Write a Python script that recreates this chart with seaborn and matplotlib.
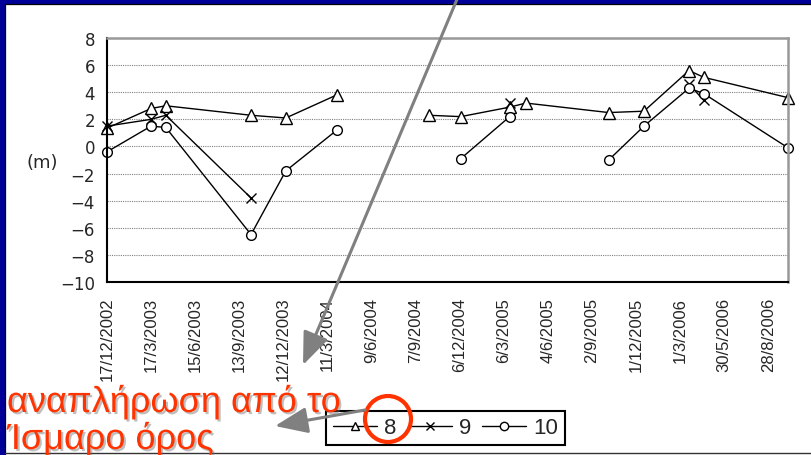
import pandas as pd
import seaborn as sns
import matplotlib.pyplot as plt
import matplotlib.dates as mdates
import matplotlib.patheffects as pe
from matplotlib.lines import Line2D
from matplotlib.patches import Rectangle, Circle, FancyArrowPatch

# sampling dates (the blank mid-2004 row breaks the lines like the Excel sheet)
dates = ['2002-12-17', '2003-03-17', '2003-04-16', '2003-10-07', '2003-12-17',
         '2004-03-30', '2004-07-01', '2004-10-04', '2004-12-08', '2005-03-18',
         '2005-04-20', '2005-10-06', '2005-12-17', '2006-03-19', '2006-04-18',
         '2006-10-07']
nan = float('nan')
s8 = [1.35, 2.8, 3.0, 2.3, 2.1, 3.8, nan, 2.3, 2.2, 2.9, 3.2, 2.5, 2.6, 5.6, 5.1, 3.6]
s9 = [1.5, 2.0, 2.3, -3.8, nan, nan, nan, nan, nan, 3.2, nan, nan, nan, 4.6, 3.4, nan]
s10 = [-0.4, 1.5, 1.4, -6.5, -1.8, 1.2, nan, nan, -0.9, 2.2, nan, -1.0, 1.5, 4.3, 3.9, -0.1]

tick_dates = ['2002-12-17', '2003-03-17', '2003-06-15', '2003-09-13', '2003-12-12',
              '2004-03-11', '2004-06-09', '2004-09-07', '2004-12-06', '2005-03-06',
              '2005-06-04', '2005-09-02', '2005-12-01', '2006-03-01', '2006-05-30',
              '2006-08-28']
tick_labels = ['17/12/2002', '17/3/2003', '15/6/2003', '13/9/2003', '12/12/2003',
               '11/3/2004', '9/6/2004', '7/9/2004', '6/12/2004', '6/3/2005',
               '4/6/2005', '2/9/2005', '1/12/2005', '1/3/2006', '30/5/2006',
               '28/8/2006']
series_names = ['8', '9', '10']

sns.set_style('white')
plt.rcParams['font.family'] = ['Liberation Sans', 'DejaVu Sans']

frames = []
for name, vals in zip(series_names, [s8, s9, s10]):
    d = pd.DataFrame({'date': pd.to_datetime(dates), 'value': vals})
    d['segment'] = d['value'].isna().cumsum()
    d['sensor'] = name
    frames.append(d.dropna())
df = pd.concat(frames, ignore_index=True)

W, H = 811, 456
fig = plt.figure(figsize=(W / 100, H / 100), dpi=100)
fig.patch.set_facecolor('white')
ax = fig.add_axes([107 / W, 1 - 283 / H, (788 - 107) / W, (283 - 39) / H])

styles = {
    '8': dict(marker='^', markersize=8, markerfacecolor='white'),
    '9': dict(marker='x', markersize=7),
    '10': dict(marker='o', markersize=7, markerfacecolor='white'),
}
for name in series_names:
    sns.lineplot(data=df[df['sensor'] == name], x='date', y='value',
                 units='segment', estimator=None, color='black', linewidth=1.0,
                 markeredgecolor='black', markeredgewidth=1.0, legend=False,
                 clip_on=False, ax=ax, **styles[name])

ax.set_xlim(mdates.date2num(pd.Timestamp('2002-12-17')),
            mdates.date2num(pd.Timestamp('2006-10-07')))
ax.set_ylim(-10, 8)
ax.set_yticks(range(-10, 9, 2))
ax.set_xticks(mdates.date2num(pd.to_datetime(tick_dates)))
ax.set_xticklabels(tick_labels, rotation=90, fontsize=12)
for lab in ax.get_yticklabels():
    lab.set_fontfamily('DejaVu Sans')
    lab.set_fontsize(12)
ax.set_xlabel('')
ax.set_ylabel('')
ax.tick_params(axis='both', direction='out', length=3.6, width=1.2, color='black')
ax.tick_params(axis='x', pad=7)
ax.tick_params(axis='y', pad=5)
ax.yaxis.grid(True, color='#808080', linestyle=(0, (1, 1)), linewidth=0.8)
ax.xaxis.grid(False)
ax.set_axisbelow(True)
for side in ['left', 'bottom']:
    ax.spines[side].set_color('black')
    ax.spines[side].set_linewidth(1.5)
for side in ['top', 'right']:
    ax.spines[side].set_color('#999999')
    ax.spines[side].set_linewidth(1.8)

fig.text(42 / W, 1 - 163 / H, '(m)', ha='center', va='center', fontsize=13,
         family='DejaVu Sans')

handles = [Line2D([], [], color='black', lw=1.0, marker='^', ms=6, mfc='white', mec='black'),
           Line2D([], [], color='black', lw=1.0, marker='x', ms=6, mec='black'),
           Line2D([], [], color='black', lw=1.0, marker='o', ms=6, mfc='white', mec='black')]
leg = fig.legend(handles, series_names, loc='center',
                 bbox_to_anchor=(445.5 / W, 1 - 429 / H), ncol=3, frameon=True,
                 fancybox=False, edgecolor='black', framealpha=1, fontsize=16,
                 handlelength=2.0, handletextpad=0.3, columnspacing=0.5,
                 borderpad=0.3, borderaxespad=0)
leg.get_frame().set_linewidth(1.5)


def px(x, y):
    return (x / 100, (H - y) / 100)


tr = fig.dpi_scale_trans
# slide frame
fig.add_artist(Rectangle(px(0, 4.5), W / 100, 0.045, transform=tr, color='#000099', lw=0, zorder=20))
fig.add_artist(Rectangle(px(0, H), 0.045, H / 100, transform=tr, color='#000099', lw=0, zorder=20))
fig.add_artist(Line2D([0.045, W / 100], [px(0, 5)[1]] * 2, transform=tr, color='black', lw=0.9, zorder=20))
fig.add_artist(Line2D([0.05, 0.05], [0, px(0, 5)[1]], transform=tr, color='black', lw=0.9, zorder=20))
fig.add_artist(Line2D([0.05, W / 100], [px(0, 453.5)[1]] * 2, transform=tr, color='#333333', lw=1.0, zorder=20))

# red annotation text
shadow = [pe.withSimplePatchShadow(offset=(1.5, -1.5), shadow_rgbFace='#707070', alpha=0.45)]
fig.text(7 / W, (H - 413) / H, 'αναπλήρωση από το', fontsize=26, color='#FF3300',
         va='baseline', ha='left', path_effects=shadow, zorder=21)
fig.text(7 / W, (H - 450) / H, 'Ίσμαρο όρος', fontsize=26, color='#FF3300',
         va='baseline', ha='left', path_effects=shadow, zorder=21)

fig.add_artist(Circle(px(388, 420), 0.23, transform=tr, fill=False, ec='#FF3300', lw=3, zorder=22))

arrow_style = '-|>,head_length=1.0,head_width=0.4'
fig.add_artist(FancyArrowPatch(px(458, -2), px(303, 366), transform=tr, arrowstyle=arrow_style,
                               mutation_scale=20, color='#808080', lw=2.2,
                               shrinkA=0, shrinkB=0, zorder=23))
fig.add_artist(FancyArrowPatch(px(365, 411), px(275, 427), transform=tr, arrowstyle=arrow_style,
                               mutation_scale=20, color='#808080', lw=2.2,
                               shrinkA=0, shrinkB=0, zorder=23))

fig.savefig('out.png', dpi=100)
